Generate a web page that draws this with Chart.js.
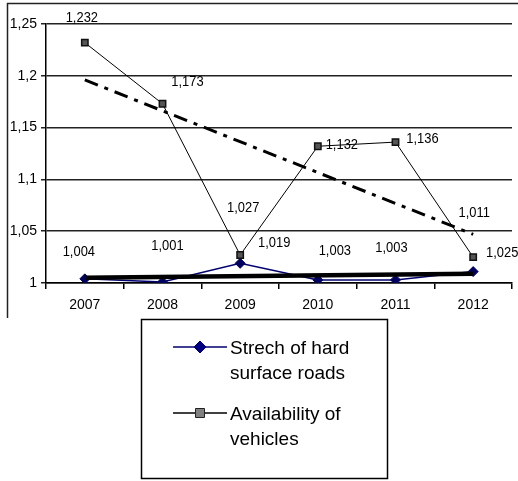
<!DOCTYPE html>
<html>
<head>
<meta charset="utf-8">
<script src="https://cdn.jsdelivr.net/npm/chart.js@4.4.0/dist/chart.umd.min.js"></script>
<style>
  html, body { margin: 0; padding: 0; background: #fff; }
  #wrap { width: 518px; height: 481px; position: relative; }
</style>
</head>
<body>
<div id="wrap"><canvas id="chart" width="518" height="481"></canvas></div>
<script>
// --- data ---
const years = ['2007', '2008', '2009', '2010', '2011', '2012'];
const roads = [1.004, 1.001, 1.019, 1.003, 1.003, 1.011];
const vehicles = [1.232, 1.173, 1.027, 1.132, 1.136, 1.025];
// trend lines: only the end points, as seen in the picture
const roadsTrend = [1.005, null, null, null, null, 1.009];
const vehiclesTrend = [1.196, null, null, null, null, 1.047];
const yTicks = [1, 1.05, 1.1, 1.15, 1.2, 1.25];

// label offsets (px from the point) for the value labels
const roadsLabelPos = [[-6, -27], [5, -36], [34, -20], [17, -29], [-4, -32], [1, -59]];
const vehiclesLabelPos = [[-3, -25], [25, -22], [3, -47], [24, -1], [27, -3], [29, -4]];

const FONT = "'Liberation Sans', Arial, sans-serif";

const fmt = v => parseFloat(v.toFixed(3)).toString().replace('.', ',');

// frame around the plot
const framePlugin = {
    id: 'frame',
    beforeDraw(chart) {
        const ctx = chart.ctx;
        ctx.save();
        ctx.strokeStyle = '#222';
        ctx.lineWidth = 1.5;
        ctx.beginPath();
        ctx.moveTo(7.5, 318);
        ctx.lineTo(7.5, 3.5);
        ctx.lineTo(518, 3.5);
        ctx.stroke();
        ctx.restore();
    }
};

// value labels next to the points (squeezed a bit, like the narrow font in the original)
const valueLabels = {
    id: 'valueLabels',
    afterDatasetsDraw(chart) {
        const ctx = chart.ctx;
        const sx = 0.86;
        ctx.save();
        ctx.font = '15px ' + FONT;
        ctx.fillStyle = '#000';
        ctx.textAlign = 'center';
        ctx.textBaseline = 'middle';
        chart.data.datasets.forEach((ds, i) => {
            if (!ds.labelPos) return;
            const meta = chart.getDatasetMeta(i);
            meta.data.forEach((pt, j) => {
                const off = ds.labelPos[j];
                ctx.save();
                ctx.translate(pt.x + off[0], pt.y + off[1]);
                ctx.scale(sx, 1);
                ctx.fillText(fmt(ds.data[j]), 0, 0);
                ctx.restore();
            });
        });
        ctx.restore();
    }
};

// legend box under the chart
const boxLegend = {
    id: 'boxLegend',
    afterDraw(chart) {
        const ctx = chart.ctx;
        const box = { x: 141, y: 319, w: 246, h: 159 };
        ctx.save();
        ctx.fillStyle = '#fff';
        ctx.fillRect(box.x, box.y, box.w, box.h);
        ctx.strokeStyle = '#000';
        ctx.lineWidth = 1.5;
        ctx.strokeRect(box.x + 0.5, box.y + 0.5, box.w, box.h);

        ctx.font = '19px Arial, "Liberation Sans", sans-serif';
        ctx.textBaseline = 'middle';
        ctx.textAlign = 'left';
        const entries = chart.data.datasets.filter(d => d.inLegend);
        const rowY = [347, 413];
        entries.forEach((ds, k) => {
            const y = rowY[k];
            ctx.strokeStyle = ds.borderColor;
            ctx.lineWidth = 1.5;
            ctx.beginPath();
            ctx.moveTo(173, y);
            ctx.lineTo(227, y);
            ctx.stroke();
            ctx.fillStyle = ds.legendFill;
            ctx.strokeStyle = ds.legendStroke;
            ctx.lineWidth = 1;
            ctx.beginPath();
            if (ds.pointStyle === 'rectRot') {
                ctx.moveTo(200, y - 6);
                ctx.lineTo(206, y);
                ctx.lineTo(200, y + 6);
                ctx.lineTo(194, y);
                ctx.closePath();
            } else {
                ctx.rect(195.5, y - 4.5, 9, 9);
            }
            ctx.fill();
            ctx.stroke();

            // wrap the label
            const words = ds.label.split(' ');
            const lines = [];
            let cur = '';
            words.forEach(w => {
                const test = cur ? cur + ' ' + w : w;
                if (ctx.measureText(test).width > 145 && cur) {
                    lines.push(cur);
                    cur = w;
                } else {
                    cur = test;
                }
            });
            lines.push(cur);
            ctx.fillStyle = '#000';
            lines.forEach((ln, n) => ctx.fillText(ln, 230, y + 2 + n * 25));
        });
        ctx.restore();
    }
};

new Chart(document.getElementById('chart'), {
    type: 'line',
    data: {
        labels: years,
        datasets: [
            {
                label: 'Strech of hard surface roads',
                data: roads,
                borderColor: '#000070',
                backgroundColor: '#000060',
                borderWidth: 1.5,
                pointStyle: 'rectRot',
                pointRadius: 5,
                pointBorderWidth: 1,
                pointBackgroundColor: '#000060',
                pointBorderColor: '#000060',
                tension: 0,
                inLegend: true,
                legendFill: '#000080',
                legendStroke: '#000080',
                labelPos: roadsLabelPos,
                order: 4
            },
            {
                label: 'Availability of vehicles',
                data: vehicles,
                borderColor: '#000',
                backgroundColor: '#555',
                borderWidth: 1,
                pointStyle: 'rect',
                pointRadius: 4.5,
                pointBorderWidth: 1.5,
                pointBackgroundColor: '#555',
                pointBorderColor: '#111',
                tension: 0,
                inLegend: true,
                legendFill: '#808080',
                legendStroke: '#222',
                labelPos: vehiclesLabelPos,
                order: 3
            },
            {
                label: 'roads trend',
                data: roadsTrend,
                borderColor: '#000',
                borderWidth: 4.5,
                pointRadius: 0,
                spanGaps: true,
                order: 1
            },
            {
                label: 'vehicles trend',
                data: vehiclesTrend,
                borderColor: '#000',
                borderWidth: 3,
                borderDash: [14, 7, 4, 7],
                pointRadius: 0,
                spanGaps: true,
                order: 2
            }
        ]
    },
    options: {
        responsive: false,
        animation: false,
        layout: { padding: { top: 24, left: 0, right: 0, bottom: 0 } },
        plugins: {
            legend: { display: false },
            tooltip: { enabled: false }
        },
        scales: {
            x: {
                offset: true,
                afterFit: s => { s.height = 198; },
                grid: {
                    offset: true,
                    drawOnChartArea: false,
                    color: '#000',
                    lineWidth: 1.5,
                    tickLength: 6
                },
                border: { color: '#000', width: 1.5 },
                ticks: {
                    color: '#000',
                    font: { family: FONT, size: 14 },
                    padding: 8,
                    maxRotation: 0
                }
            },
            y: {
                min: yTicks[0],
                max: yTicks[yTicks.length - 1],
                afterFit: s => { s.width = 46; },
                afterBuildTicks: s => { s.ticks = yTicks.map(v => ({ value: v })); },
                grid: {
                    color: '#222',
                    lineWidth: 1.5,
                    tickLength: 5
                },
                border: { color: '#000', width: 1.5 },
                ticks: {
                    color: '#000',
                    font: { family: FONT, size: 14 },
                    padding: 4,
                    callback: v => fmt(v)
                }
            }
        }
    },
    plugins: [framePlugin, valueLabels, boxLegend]
});
</script>
</body>
</html>
